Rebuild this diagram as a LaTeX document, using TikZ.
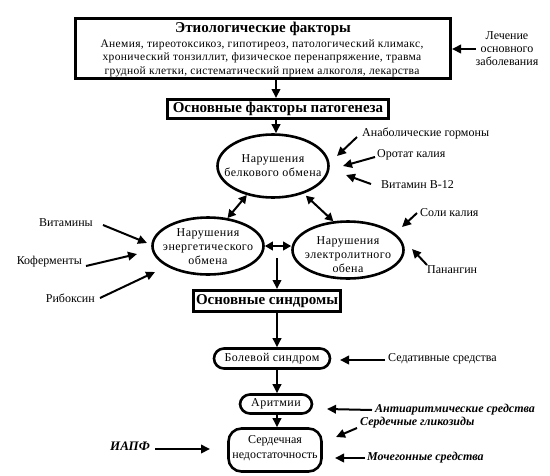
\documentclass[tikz,border=0pt]{standalone}
\usepackage{fontspec}
\setmainfont{Liberation Serif}
\newfontfamily\widefont[LetterSpace=3]{Liberation Serif}
\newfontfamily\widerfont[LetterSpace=4]{Liberation Serif}
\usetikzlibrary{arrows.meta,shapes.geometric}
\begin{document}
\begin{tikzpicture}[x=1pt,y=-1pt,
  thickbox/.style={draw,line width=3pt,inner sep=0pt,rectangle},
  ell/.style={draw,ellipse,line width=2.6pt,inner sep=0pt},
  etext/.style={inner sep=0pt,align=center,font=\widerfont\fontsize{12}{14}\selectfont},
  oval/.style={draw,rectangle,line width=2.6pt,inner sep=0pt,align=center,font=\widerfont\fontsize{12}{15}\selectfont},
  lbl/.style={inner sep=0pt,font=\fontsize{12}{13}\selectfont,align=center},
  bilbl/.style={inner sep=0pt,font=\fontsize{12}{13}\selectfont\bfseries\itshape},
  ttl/.style={inner sep=0pt,font=\fontsize{15}{16}\selectfont\bfseries},
  arr/.style={line width=2pt,-{Triangle[length=9pt,width=8.5pt]}},
  dbl/.style={line width=2pt,{Triangle[length=8pt,width=8.5pt]}-{Triangle[length=8pt,width=8.5pt]}}
]
\useasboundingbox (0,0) rectangle (550,475);
\coordinate (cx) at (276,0);
% top box
\node[thickbox,minimum width=375pt,minimum height=60pt] (box1) at (263,48.5) {};
\node[ttl] (t1) at (263,29) {Этиологические факторы};
\node[inner sep=0pt,align=center,font=\widefont\fontsize{11.5}{13.5}\selectfont] (t1b) at (262,58)
  {Анемия, тиреотоксикоз, гипотиреоз, патологический климакс,\\
   хронический тонзиллит, физическое перенапряжение, травма\\
   грудной клетки, систематический прием алкоголя, лекарства};
\node[lbl] (lech) at (507,49) {Лечение\\основного\\заболевания};
\draw[arr] (lech.west) -- (lech.west -| box1.east);
% second box
\node[thickbox,ttl,minimum width=221pt,minimum height=19pt] (box2) at (278,109) {Основные факторы патогенеза};
\draw[arr] (box1.south -| cx) -- (box2.north -| cx);
% ellipses
\node[ell,minimum width=111pt,minimum height=63pt] (e1) at (273,166) {};
\node[ell,minimum width=111pt,minimum height=57pt] (e2) at (208,246) {};
\node[ell,minimum width=111pt,minimum height=57pt] (e3) at (348,250) {};
\node[etext] (e1t) at (273,166) {Нарушения\\белкового обмена};
\node[etext] (e2t) at (208,247) {Нарушения\\энергетического\\обмена};
\node[etext] (e3t) at (348,255) {Нарушения\\электролитного\\обена};
\draw[arr] (box2.south -| cx) -- (e1.north -| cx);
\draw[dbl] (e1.228) -- (e2.55);
\draw[dbl,shorten <=3pt] (e1.318) -- (e3.117);
\draw[dbl] (e2.east) -- (e2.east -| e3.west);
% labels around e1
\node[lbl,anchor=west] (anab) at (362,133) {Анаболические гормоны};
\node[lbl,anchor=west] (orot) at (377,155) {Оротат калия};
\node[lbl,anchor=west] (vitb) at (381,185) {Витамин В-12};
\coordinate (tAnab) at (337,156);
\coordinate (tOrot) at (343,166);
\coordinate (tVitb) at (346,175);
\draw[arr] ([shift={(-5,4)}]anab.west) -- (tAnab);
\draw[arr] ([shift={(-2,2)}]orot.west) -- (tOrot);
\draw[arr] ([shift={(-10,-1)}]vitb.west) -- (tVitb);
% labels around e3
\node[lbl,anchor=west] (soli) at (420,213) {Соли калия};
\node[lbl,anchor=west] (pan) at (427,270) {Панангин};
\coordinate (tSoli) at (402,227);
\coordinate (tPan) at (412,249);
\draw[arr] ([shift={(-3,0)}]soli.west) -- (tSoli);
\draw[arr] ([shift={(0,-5)}]pan.west) -- (tPan);
% labels around e2
\node[lbl,anchor=east] (vit) at (93,223) {Витамины};
\node[lbl,anchor=east] (kof) at (82,262) {Коферменты};
\node[lbl,anchor=east] (rib) at (95,298) {Рибоксин};
\coordinate (tVit) at (147,243);
\coordinate (tKof) at (137,254);
\coordinate (tRib) at (155,272);
\draw[arr] ([shift={(10,2)}]vit.east) -- (tVit);
\draw[arr] ([shift={(4,4)}]kof.east) -- (tKof);
\draw[arr] ([shift={(5,0)}]rib.east) -- (tRib);
% syndromes
\node[thickbox,ttl,minimum width=147pt,minimum height=21pt] (box3) at (267,301) {Основные синдромы};
\coordinate (split) at (277,258);
\draw[arr] (split) -- (split |- box3.north);
\coordinate (cy) at (277,0);
\node[oval,rounded corners=10pt,minimum width=116pt,minimum height=20pt] (bol) at (272,358.5) {Болевой синдром};
\node[oval,rounded corners=10pt,minimum width=72pt,minimum height=19pt] (ar) at (276,404) {Аритмии};
\node[oval,rounded corners=13pt,minimum width=93pt,minimum height=43pt] (sn) at (275,450) {};
\node[inner sep=0pt,align=center,font=\fontsize{12}{15}\selectfont] (snt) at (275,448) {Сердечная\\недостаточность};
\draw[arr] (box3.south -| cy) -- (bol.north -| cy);
\draw[arr] (bol.south -| cy) -- (ar.north -| cy);
\draw[arr] (ar.south -| cy) -- (sn.north -| cy);
% side labels
\node[lbl,anchor=west] (sed) at (388,359) {Седативные средства};
\node[bilbl,anchor=west] (anti) at (375,410) {Антиаритмические средства};
\node[bilbl,anchor=west] (serd) at (360,423) {Сердечные гликозиды};
\node[bilbl,anchor=west] (moch) at (367,458) {Мочегонные средства};
\node[bilbl,anchor=east,font=\fontsize{13}{14}\selectfont\bfseries\itshape] (iapf) at (150,446) {ИАПФ};
\coordinate (tSed) at (340,360);
\coordinate (tAnti) at (327,409);
\coordinate (tSerd) at (336,437);
\coordinate (tMoch) at (335,458);
\coordinate (tIapf) at (210,449);
\draw[arr] ([shift={(-3,1)}]sed.west) -- (tSed);
\draw[arr] ([shift={(-3,0)}]anti.west) -- (tAnti);
\draw[arr] ([shift={(-3,5)}]serd.west) -- (tSerd);
\draw[arr] ([shift={(-2,0)}]moch.west) -- (tMoch);
\draw[arr] ([shift={(5,3)}]iapf.east) -- (tIapf);
\end{tikzpicture}
\end{document}
